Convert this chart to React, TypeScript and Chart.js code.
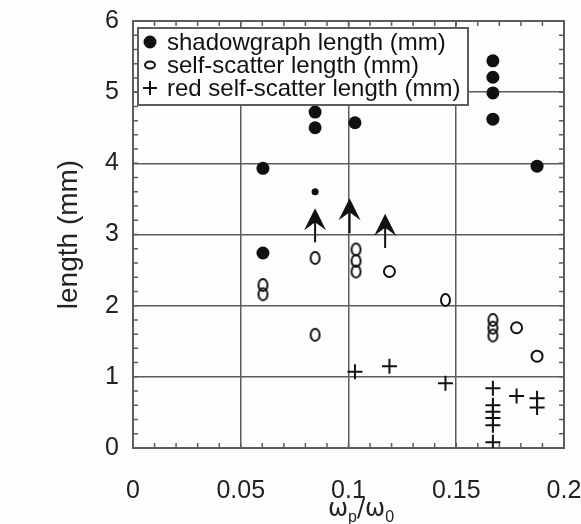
import React, { useEffect, useRef } from 'react';
import { Chart, registerables } from 'chart.js';

Chart.register(...registerables);

// ---- data ----
const xTickValues = [0, 0.05, 0.1, 0.15, 0.2];
const yTickValues = [0, 1, 2, 3, 4, 5, 6];

const shadowX = [0.0603, 0.0603, 0.0845, 0.0845, 0.103, 0.167, 0.167, 0.167, 0.167, 0.1875];
const shadowY = [3.93, 2.74, 4.72, 4.5, 4.57, 5.44, 5.21, 4.99, 4.62, 3.96];
const shadowSmallX = [0.0845];
const shadowSmallY = [3.6];

const selfX = [0.0603, 0.0603, 0.0845, 0.0845, 0.1035, 0.1035, 0.1035, 0.145, 0.167, 0.167, 0.167];
const selfY = [2.29, 2.16, 2.67, 1.59, 2.79, 2.63, 2.48, 2.08, 1.8, 1.69, 1.58];
const selfRoundX = [0.119, 0.178, 0.1875];
const selfRoundY = [2.48, 1.69, 1.29];

const redX = [0.103, 0.119, 0.145, 0.167, 0.167, 0.167, 0.167, 0.167, 0.167, 0.178, 0.1875, 0.1875];
const redY = [1.07, 1.15, 0.91, 0.84, 0.6, 0.51, 0.42, 0.32, 0.08, 0.73, 0.7, 0.57];

const arrowX = [0.0845, 0.1005, 0.117];
const arrowFrom = [2.89, 3.02, 2.81];
const arrowTo = [3.37, 3.51, 3.29];

const legendLabels = [
  'shadowgraph length (mm)',
  'self-scatter length (mm)',
  'red self-scatter length (mm)',
];
const yTitle = 'length (mm)';

const FONT = '"Liberation Sans", Arial, Helvetica, sans-serif';
const GRID = '#5c5c5c';
const INK = '#111';

function toPoints(xs: number[], ys: number[]) {
  return xs.map((x, i) => ({ x, y: ys[i] }));
}

function makeOval(w: number, h: number, lw: number) {
  const c = document.createElement('canvas');
  c.width = w + lw * 2 + 2;
  c.height = h + lw * 2 + 2;
  const ctx = c.getContext('2d')!;
  ctx.strokeStyle = INK;
  ctx.lineWidth = lw;
  ctx.beginPath();
  ctx.ellipse(c.width / 2, c.height / 2, w / 2, h / 2, 0, 0, Math.PI * 2);
  ctx.stroke();
  return c;
}

const framePlugin = {
  id: 'frameMinor',
  beforeDraw(chart: any) {
    const { ctx, width, height } = chart;
    ctx.save();
    ctx.fillStyle = '#fdfdfd';
    ctx.fillRect(0, 0, width, height);
    ctx.restore();
  },
  beforeDatasetsDraw(chart: any) {
    const { ctx, chartArea: a, scales } = chart;
    const xs = scales.x, ys = scales.y;
    ctx.save();
    ctx.strokeStyle = GRID;
    ctx.lineWidth = 1.5;
    const tl = 5;
    for (let i = 0; i <= 20; i++) {
      const v = i / 100;
      const px = xs.getPixelForValue(v);
      ctx.beginPath();
      ctx.moveTo(px, a.bottom);
      ctx.lineTo(px, a.bottom - tl);
      ctx.moveTo(px, a.top);
      ctx.lineTo(px, a.top + tl);
      ctx.stroke();
    }
    for (let i = 0; i <= 30; i++) {
      const v = i * 0.2;
      const py = ys.getPixelForValue(v);
      ctx.beginPath();
      ctx.moveTo(a.left, py);
      ctx.lineTo(a.left + tl, py);
      ctx.moveTo(a.right, py);
      ctx.lineTo(a.right - tl, py);
      ctx.stroke();
    }
    ctx.lineWidth = 2;
    ctx.strokeRect(a.left, a.top, a.right - a.left, a.bottom - a.top);
    ctx.restore();
  },
  afterDatasetsDraw(chart: any) {
    const { ctx, scales } = chart;
    const xs = scales.x, ys = scales.y;
    ctx.save();
    ctx.strokeStyle = INK;
    ctx.fillStyle = INK;
    ctx.lineWidth = 2;
    arrowX.forEach((xv, i) => {
      const px = xs.getPixelForValue(xv);
      const p0 = ys.getPixelForValue(arrowFrom[i]);
      const p1 = ys.getPixelForValue(arrowTo[i]);
      ctx.beginPath();
      ctx.moveTo(px, p0);
      ctx.lineTo(px, p1 + 10);
      ctx.stroke();
      ctx.beginPath();
      ctx.moveTo(px, p1);
      ctx.lineTo(px + 11, p1 + 22);
      ctx.lineTo(px, p1 + 14);
      ctx.lineTo(px - 11, p1 + 22);
      ctx.closePath();
      ctx.fill();
    });
    ctx.restore();
  },
  afterDraw(chart: any) {
    const { ctx, chartArea: a } = chart;
    ctx.save();
    // legend box
    const bx = a.left + 5, by = a.top + 7, bw = 330, bh = 77;
    ctx.fillStyle = '#fdfdfd';
    ctx.fillRect(bx, by, bw, bh);
    ctx.strokeStyle = GRID;
    ctx.lineWidth = 2;
    ctx.strokeRect(bx, by, bw, bh);
    const rows = [by + 14, by + 37, by + 60];
    const mx = bx + 12;
    ctx.fillStyle = INK;
    ctx.strokeStyle = INK;
    // filled circle
    ctx.beginPath();
    ctx.arc(mx, rows[0], 6.5, 0, Math.PI * 2);
    ctx.fill();
    // open oval
    ctx.lineWidth = 2;
    ctx.beginPath();
    ctx.ellipse(mx, rows[1], 5, 3.5, 0, 0, Math.PI * 2);
    ctx.stroke();
    // plus
    ctx.beginPath();
    ctx.moveTo(mx - 7, rows[2]);
    ctx.lineTo(mx + 7, rows[2]);
    ctx.moveTo(mx, rows[2] - 7);
    ctx.lineTo(mx, rows[2] + 7);
    ctx.stroke();
    ctx.font = `24px ${FONT}`;
    ctx.textBaseline = 'middle';
    ctx.textAlign = 'left';
    legendLabels.forEach((t, i) => ctx.fillText(t, bx + 29, rows[i] + 1));

    // x axis title with subscripts
    const big = `24px "DejaVu Sans", ${FONT}`;
    const small = `16px ${FONT}`;
    const parts = [
      { t: '\u03c9', f: big, dy: 0 },
      { t: 'p', f: small, dy: 6 },
      { t: '/\u03c9', f: big, dy: 0 },
      { t: '0', f: small, dy: 6 },
    ];
    let total = 0;
    parts.forEach((p) => {
      ctx.font = p.f;
      total += ctx.measureText(p.t).width;
    });
    let x = 361 - total / 2;
    const baseY = 516;
    ctx.textBaseline = 'alphabetic';
    ctx.fillStyle = '#222';
    parts.forEach((p) => {
      ctx.font = p.f;
      ctx.fillText(p.t, x, baseY + p.dy);
      x += ctx.measureText(p.t).width;
    });
    ctx.restore();
  },
};

export default function App() {
  const ref = useRef<HTMLCanvasElement | null>(null);

  useEffect(() => {
    document.body.style.margin = '0';
    const canvas = ref.current!;
    const oval = makeOval(9, 12, 2);
    const chart = new Chart(canvas, {
      type: 'scatter',
      data: {
        datasets: [
          {
            label: legendLabels[0],
            data: toPoints(shadowX, shadowY),
            pointStyle: 'circle',
            pointRadius: 6.5,
            backgroundColor: INK,
            borderWidth: 0,
          },
          {
            label: legendLabels[0] + ' (small)',
            data: toPoints(shadowSmallX, shadowSmallY),
            pointStyle: 'circle',
            pointRadius: 3.5,
            backgroundColor: INK,
            borderWidth: 0,
          },
          {
            label: legendLabels[1],
            data: toPoints(selfX, selfY),
            pointStyle: oval as any,
            pointRadius: 6,
          },
          {
            label: legendLabels[1] + ' (round)',
            data: toPoints(selfRoundX, selfRoundY),
            pointStyle: 'circle',
            pointRadius: 5.5,
            backgroundColor: 'rgba(0,0,0,0)',
            borderColor: INK,
            borderWidth: 2,
          },
          {
            label: legendLabels[2],
            data: toPoints(redX, redY),
            pointStyle: 'cross',
            pointRadius: 7.5,
            borderColor: INK,
            borderWidth: 2,
          },
        ],
      },
      options: {
        responsive: false,
        animation: false,
        layout: { padding: { top: 21, right: 17, left: 0, bottom: 0 } },
        plugins: {
          legend: { display: false },
          tooltip: { enabled: false },
        },
        scales: {
          x: {
            type: 'linear',
            min: 0,
            max: 0.2,
            afterBuildTicks: (s: any) => {
              s.ticks = xTickValues.map((v) => ({ value: v }));
            },
            afterFit: (s: any) => {
              s.height = 76;
              s.paddingLeft = 0;
              s.paddingRight = 0;
            },
            ticks: {
              padding: 28,
              color: '#222',
              font: { family: FONT, size: 25 },
              callback: (v: any) => String(+Number(v).toFixed(2)),
              maxRotation: 0,
            },
            grid: { color: GRID, lineWidth: 1.5, drawTicks: false },
            border: { display: false },
          },
          y: {
            type: 'linear',
            min: 0,
            max: 6,
            afterBuildTicks: (s: any) => {
              s.ticks = yTickValues.map((v) => ({ value: v }));
            },
            afterFit: (s: any) => {
              s.width = 133;
              s.paddingTop = 0;
              s.paddingBottom = 0;
            },
            ticks: {
              padding: 14,
              color: '#222',
              font: { family: FONT, size: 25 },
              callback: (v: any) => String(v),
            },
            grid: { color: GRID, lineWidth: 1.5, drawTicks: false },
            border: { display: false },
            title: {
              display: true,
              text: yTitle,
              color: '#222',
              font: { family: FONT, size: 28 },
              padding: { top: 52, bottom: 0 },
            },
          },
        },
      },
      plugins: [framePlugin],
    });
    return () => chart.destroy();
  }, []);

  return <canvas ref={ref} width={581} height={524} style={{ display: 'block' }} />;
}
